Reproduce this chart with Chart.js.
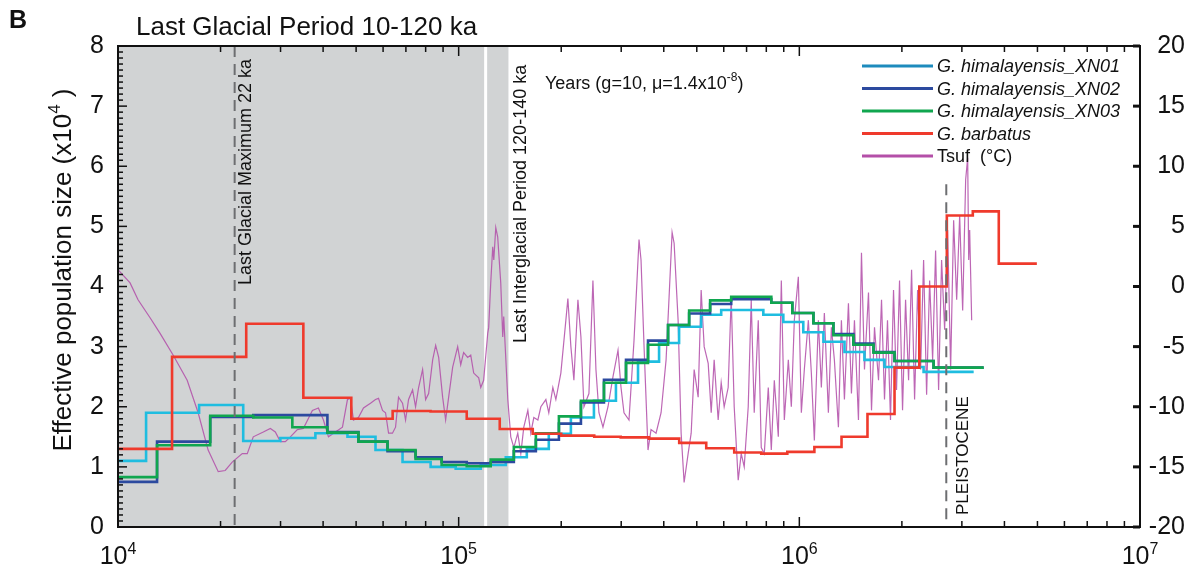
<!DOCTYPE html>
<html>
<head>
<meta charset="utf-8">
<script src="https://cdn.jsdelivr.net/npm/chart.js@4.4.1/dist/chart.umd.min.js"></script>
<style>
  html, body { margin: 0; padding: 0; background: #fff; }
  #wrap { width: 1192px; height: 570px; }
</style>
</head>
<body>
<div id="wrap"><canvas id="chart" width="1192" height="570"></canvas></div>
<script>
// PSMC step series: start of each interval (years) and Ne (x10^4), last value repeated at the end
const xn01Age = [10000, 12090, 17300, 23310, 29960, 37970, 47160, 57000, 68430, 82740, 98000, 116100, 137500, 158500, 183900, 213500, 249500, 289500, 336100, 387500, 443600, 515000, 589700, 784000, 897400, 1027000, 1177000, 1357000, 1553000, 1778000, 2316000, 3249000];
const xn01Ne = [1.10, 1.90, 2.03, 1.43, 1.48, 1.56, 1.50, 1.28, 1.08, 1.00, 0.97, 1.03, 1.16, 1.30, 1.55, 1.82, 2.10, 2.40, 2.75, 3.06, 3.33, 3.53, 3.61, 3.53, 3.41, 3.24, 3.08, 2.91, 2.78, 2.66, 2.58, 2.58];

const xn0203Age = [10000, 13020, 18650, 24950, 32490, 41180, 50800, 61830, 74730, 89130, 105600, 124200, 145200, 168500, 196900, 228500, 267000, 309900, 359600, 411800, 474800, 547200, 631000, 827400, 953700, 1100000, 1259000, 1441000, 1651000, 1903000, 2478000, 3477000];
const xn02Ne = [0.75, 1.42, 1.83, 1.86, 1.86, 1.58, 1.42, 1.26, 1.16, 1.08, 1.06, 1.08, 1.26, 1.45, 1.72, 2.07, 2.45, 2.78, 3.10, 3.36, 3.55, 3.71, 3.79, 3.73, 3.56, 3.39, 3.21, 3.05, 2.91, 2.76, 2.65, 2.65];
const xn03Ne = [0.83, 1.36, 1.85, 1.82, 1.66, 1.57, 1.42, 1.28, 1.13, 1.03, 1.01, 1.12, 1.33, 1.56, 1.84, 2.10, 2.40, 2.73, 3.03, 3.36, 3.60, 3.77, 3.83, 3.73, 3.56, 3.39, 3.19, 3.03, 2.90, 2.76, 2.65, 2.65];

const barbAge = [10000, 14410, 23790, 35000, 48400, 64000, 82700, 105600, 132000, 165000, 200000, 250000, 299000, 362000, 444000, 533000, 644000, 773000, 922000, 1107000, 1330000, 1585000, 1903000, 2250000, 2710000, 3230000, 3850000, 4980000];
const barbNe = [1.30, 2.83, 3.38, 2.15, 1.80, 1.93, 1.92, 1.80, 1.63, 1.55, 1.52, 1.50, 1.49, 1.47, 1.40, 1.31, 1.24, 1.22, 1.25, 1.33, 1.50, 1.88, 2.65, 4.00, 5.18, 5.25, 4.38, 4.38];

// surface temperature record (ka, deg C)
const tsufKa = [10.0, 10.85, 11.45, 12.42, 13.29, 14.51, 15.96, 17.19, 18.39, 19.69, 20.64, 21.64, 23.16, 23.96, 24.95, 26.70, 28.00, 28.96, 29.96, 30.99, 32.06, 33.61, 35.00, 37.21, 38.75, 40.09, 41.47, 43.48, 45.59, 47.16, 48.13, 49.12, 50.80, 52.55, 55.10, 57.00, 58.17, 59.77, 61.00, 62.26, 63.92, 65.27, 66.60, 68.43, 69.84, 71.27, 73.24, 74.73, 76.28, 78.37, 79.98, 81.63, 83.88, 85.60, 87.36, 89.73, 91.57, 93.46, 96.03, 99.33, 101.4, 103.4, 106.3, 108.5, 110.7, 114.5, 116.1, 118.4, 121.7, 122.5, 124.2, 125.9, 126.8, 128.5, 130.2, 132.9, 134.7, 135.6, 139.4, 142.2, 145.2, 149.1, 152.2, 155.3, 159.6, 162.8, 166.2, 170.8, 174.3, 180.3, 183.9, 189.0, 192.9, 199.5, 206.4, 209.2, 213.5, 217.9, 223.9, 228.5, 233.2, 241.2, 247.8, 252.9, 258.1, 265.2, 274.4, 283.8, 293.6, 299.6, 305.7, 316.2, 327.1, 338.4, 343.0, 350.1, 359.6, 367.0, 379.7, 392.8, 406.3, 414.6, 423.2, 429.0, 440.7, 449.8, 459.0, 471.6, 481.4, 491.2, 504.7, 515.0, 525.6, 540.1, 551.2, 562.3, 577.8, 589.7, 601.7, 618.2, 631.0, 643.9, 661.6, 675.2, 689.0, 707.9, 722.4, 737.2, 757.6, 773.1, 789.1, 810.7, 827.4, 844.4, 867.6, 885.4, 903.6, 928.3, 947.4, 966.7, 993.3, 1013.7, 1034.4, 1062.9, 1084.6, 1106.9, 1137.3, 1160.5, 1184.3, 1216.9, 1241.9, 1267.3, 1302.2, 1328.9, 1356.3, 1393.6, 1422.2, 1451.4, 1491.3, 1522.0, 1553.2, 1595.9, 1628.8, 1662.1, 1707.9, 1742.9, 1778.3, 1814.7, 1851.9, 1890.1, 1929.0, 1968.6, 2009.0, 2050.5, 2092.6, 2135.5, 2179.3, 2224.2, 2269.8, 2316.3, 2363.8, 2412.6, 2462.0, 2511.9, 2563.4, 2615.9, 2670.0, 2724.7, 2780.5, 2837.5, 2896.3, 2955.6, 3016.1, 3077.9, 3120.0, 3141.5, 3162.3, 3205.5];
const tsufTemp = [1.4, 0.3, -1.1, -2.6, -3.9, -5.7, -7.8, -10.5, -13.6, -15.4, -15.3, -14.6, -13.9, -13.9, -12.5, -12.1, -11.8, -12.1, -12.9, -12.9, -12.5, -11.9, -11.8, -10.3, -10.1, -11.1, -12.5, -12.1, -11.7, -9.4, -9.3, -11.1, -10.9, -10.1, -9.7, -9.4, -9.3, -10.3, -10.5, -12.2, -12.2, -11.7, -9.2, -9.7, -11.1, -9.4, -8.6, -10.0, -8.4, -6.9, -9.4, -8.9, -6.1, -4.9, -5.9, -9.2, -11.1, -9.2, -6.7, -5.0, -6.5, -5.5, -5.9, -5.7, -7.2, -7.6, -8.4, -7.8, -3.9, -3.4, 0.3, 3.3, 2.2, 4.9, 4.1, 0.3, -4.2, -2.5, -9.4, -12.5, -13.4, -12.2, -13.9, -11.7, -10.3, -12.2, -10.9, -11.1, -10.0, -9.4, -10.5, -8.4, -9.4, -7.2, -2.8, -1.0, -5.0, -7.8, -1.1, -4.2, -10.0, -8.9, 0.5, -6.9, -10.5, -11.7, -10.0, -7.5, -5.3, -8.4, -10.5, -11.1, -4.5, 3.9, 2.2, -5.0, -13.6, -11.9, -12.2, -10.5, -6.1, -0.9, 4.5, 3.6, -2.8, -12.2, -16.3, -13.9, -12.2, -6.9, -9.2, -0.3, -5.0, -6.4, -10.5, -6.1, -11.1, -8.0, -10.0, -8.4, -0.9, -10.0, -16.1, -13.9, -15.0, -10.0, -1.1, -10.5, -2.8, -13.4, -13.9, -8.4, -13.6, -7.8, -12.5, 0.5, -11.1, -6.1, -10.0, -2.8, 0.8, -10.5, -6.9, -2.8, -7.2, -12.8, -2.8, -8.4, -2.2, -10.5, -3.4, -6.1, -11.7, -2.8, -9.4, -1.4, -8.9, -2.8, -11.1, 2.8, -6.9, -0.5, -10.3, -3.4, -7.8, -1.1, -9.4, -2.8, -11.1, -0.3, -8.6, 0.5, -10.3, -1.1, -7.8, 1.4, -9.4, -0.3, -6.9, 2.2, -9.0, 0.5, -6.1, 3.0, -8.6, 2.2, -3.6, 4.7, -6.9, 5.5, -1.1, 5.9, -2.0, 8.9, 10.7, 2.2, 4.7, -2.8];

// axes
const leftTicks = [0, 1, 2, 3, 4, 5, 6, 7, 8];
const rightTicks = [-20, -15, -10, -5, 0, 5, 10, 15, 20];
const xTickExp = [4, 5, 6, 7];

// periods (years)
const glacialBand = [10000, 140000];
const interglacialStart = 120000;
const lgmAge = 22000;
const pleistoceneAge = 2700000;

const FONT = '"Liberation Sans", Arial, Helvetica, sans-serif';

function pts(xs, ys, k) {
  return xs.map((v, i) => ({ x: v * (k || 1), y: ys[i] }));
}

// text with superscript parts: parts = [[text, isSup], ...]
function richText(ctx, x, y, parts, size, align, style) {
  const pre = style ? style + ' ' : '';
  const supSize = Math.round(size * 0.65);
  let w = 0;
  parts.forEach(p => {
    ctx.font = pre + (p[1] ? supSize : size) + 'px ' + FONT;
    w += ctx.measureText(p[0]).width;
  });
  let cx = align === 'center' ? x - w / 2 : align === 'right' ? x - w : x;
  ctx.textAlign = 'left';
  parts.forEach(p => {
    ctx.font = pre + (p[1] ? supSize : size) + 'px ' + FONT;
    ctx.fillText(p[0], cx, p[1] ? y - size * 0.42 : y);
    cx += ctx.measureText(p[0]).width;
  });
}

function seg(ctx, x1, y1, x2, y2) {
  ctx.beginPath();
  ctx.moveTo(x1, y1);
  ctx.lineTo(x2, y2);
  ctx.stroke();
}

const decor = {
  id: 'decor',
  beforeDatasetsDraw(chart) {
    const { ctx, chartArea: a, scales: { x } } = chart;
    ctx.save();
    const g1 = x.getPixelForValue(glacialBand[0]);
    const g2 = x.getPixelForValue(glacialBand[1]);
    ctx.fillStyle = '#d1d3d4';
    ctx.fillRect(g1, a.top, g2 - g1, a.bottom - a.top);
    const wx = x.getPixelForValue(interglacialStart);
    ctx.strokeStyle = '#ffffff';
    ctx.lineWidth = 3;
    seg(ctx, wx, a.top, wx, a.bottom);
    ctx.restore();
  },
  afterDatasetsDraw(chart) {
    const { ctx, chartArea: a, scales: { x, y } } = chart;
    ctx.save();
    ctx.strokeStyle = '#6d6e71';
    ctx.lineWidth = 2;
    ctx.setLineDash([11, 7]);
    const lx = x.getPixelForValue(lgmAge);
    seg(ctx, lx, a.top, lx, a.bottom);
    const px = x.getPixelForValue(pleistoceneAge);
    seg(ctx, px, y.getPixelForValue(5.7), px, a.bottom);
    ctx.restore();
  },
  afterDraw(chart) {
    const { ctx, chartArea: a, scales: { x, y, y2 } } = chart;
    ctx.save();
    ctx.fillStyle = '#111';
    ctx.strokeStyle = '#111';

    // frame
    ctx.lineWidth = 2;
    ctx.strokeRect(a.left, a.top, a.right - a.left, a.bottom - a.top);

    // x ticks (inward, top and bottom)
    ctx.lineWidth = 1.5;
    xTickExp.forEach(e => {
      for (let m = 1; m <= 9; m++) {
        const v = m * Math.pow(10, e);
        if (v > x.max) break;
        const px = x.getPixelForValue(v);
        const len = m === 1 ? 10 : 6;
        seg(ctx, px, a.bottom, px, a.bottom - len);
        seg(ctx, px, a.top, px, a.top + len);
      }
    });

    // left ticks
    for (let i = 0; i <= 80; i++) {
      const py = y.getPixelForValue(i / 10);
      const len = i % 10 === 0 ? 9 : 5;
      seg(ctx, a.left, py, a.left + len, py);
    }
    // right ticks
    ctx.lineWidth = 3;
    rightTicks.forEach(t => {
      const py = y2.getPixelForValue(t);
      seg(ctx, a.right - 7, py, a.right, py);
    });

    // tick labels
    ctx.textBaseline = 'middle';
    ctx.font = '25px ' + FONT;
    ctx.textAlign = 'right';
    leftTicks.forEach(t => ctx.fillText(String(t), 104, y.getPixelForValue(t)));
    rightTicks.forEach(t => ctx.fillText(String(t), 1185, y2.getPixelForValue(t)));
    ctx.textBaseline = 'alphabetic';
    xTickExp.forEach(e => {
      richText(ctx, x.getPixelForValue(Math.pow(10, e)), 564, [['10', false], [String(e), true]], 25, 'center');
    });

    // y axis title
    ctx.save();
    ctx.translate(71, 270);
    ctx.rotate(-Math.PI / 2);
    richText(ctx, 0, 0, [['Effective population size (x10', false], ['4', true], [' )', false]], 26, 'center');
    ctx.restore();

    // titles
    ctx.font = 'bold 25px ' + FONT;
    ctx.textAlign = 'left';
    ctx.fillText('B', 9, 28);
    ctx.font = '26px ' + FONT;
    ctx.fillText('Last Glacial Period 10-120 ka', 136, 35);

    richText(ctx, 545, 89, [['Years (g=10, \u03bc=1.4x10', false], ['-8', true], [')', false]], 18, 'left');

    // rotated annotations
    const vtext = (txt, bx, by, size) => {
      ctx.save();
      ctx.translate(bx, by);
      ctx.rotate(-Math.PI / 2);
      ctx.font = size + 'px ' + FONT;
      ctx.textAlign = 'left';
      ctx.fillText(txt, 0, 0);
      ctx.restore();
    };
    vtext('Last Glacial Maximum 22 ka', 251, 285, 18);
    vtext('Last Interglacial Period 120-140 ka', 526, 343, 18);
    vtext('PLEISTOCENE', 968, 515, 17);

    // legend
    chart.data.datasets.forEach((ds, i) => {
      const ly = 66 + i * 22.5;
      ctx.strokeStyle = ds.legendColor || ds.borderColor;
      ctx.lineWidth = 3;
      seg(ctx, 862, ly, 933, ly);
      ctx.fillStyle = '#111';
      ctx.font = (ds.legendItalic ? 'italic ' : '') + '18px ' + FONT;
      ctx.textBaseline = 'middle';
      ctx.fillText(ds.label, 937, ly + 1);
    });
    ctx.restore();
  }
};

const stepLine = {
  pointRadius: 0,
  borderWidth: 2.6,
  stepped: 'before',
  fill: false,
  yAxisID: 'y'
};

new Chart(document.getElementById('chart'), {
  type: 'line',
  data: {
    datasets: [
      Object.assign({}, stepLine, { label: 'G. himalayensis_XN01', data: pts(xn01Age, xn01Ne), borderColor: '#1fbde0', legendColor: '#1d8bbd', legendItalic: true, order: 4 }),
      Object.assign({}, stepLine, { label: 'G. himalayensis_XN02', data: pts(xn0203Age, xn02Ne), borderColor: '#2c4a9f', legendItalic: true, order: 3 }),
      Object.assign({}, stepLine, { label: 'G. himalayensis_XN03', data: pts(xn0203Age, xn03Ne), borderColor: '#10a64f', legendItalic: true, order: 2 }),
      Object.assign({}, stepLine, { label: 'G. barbatus', data: pts(barbAge, barbNe), borderColor: '#ef3a2c', legendItalic: true, order: 1 }),
      { label: 'Tsuf  (\u00b0C)', data: pts(tsufKa, tsufTemp, 1000), borderColor: 'rgba(178,76,168,0.85)', legendColor: '#b44fa8', borderWidth: 1.2, pointRadius: 0, tension: 0, yAxisID: 'y2', order: 5 }
    ]
  },
  options: {
    responsive: false,
    animation: false,
    devicePixelRatio: 1,
    layout: { padding: { top: 46, left: 0, right: 0, bottom: 0 } },
    plugins: { legend: { display: false }, tooltip: { enabled: false } },
    scales: {
      x: {
        type: 'logarithmic', min: 1e4, max: 1e7,
        grid: { display: false }, border: { display: false },
        ticks: { display: false },
        afterFit: s => { s.height = 43; }
      },
      y: {
        position: 'left', min: 0, max: 8,
        grid: { display: false }, border: { display: false },
        ticks: { display: false },
        afterFit: s => { s.width = 118; }
      },
      y2: {
        position: 'right', min: -20, max: 20,
        grid: { display: false }, border: { display: false },
        ticks: { display: false },
        afterFit: s => { s.width = 52; }
      }
    }
  },
  plugins: [decor]
});
</script>
</body>
</html>
